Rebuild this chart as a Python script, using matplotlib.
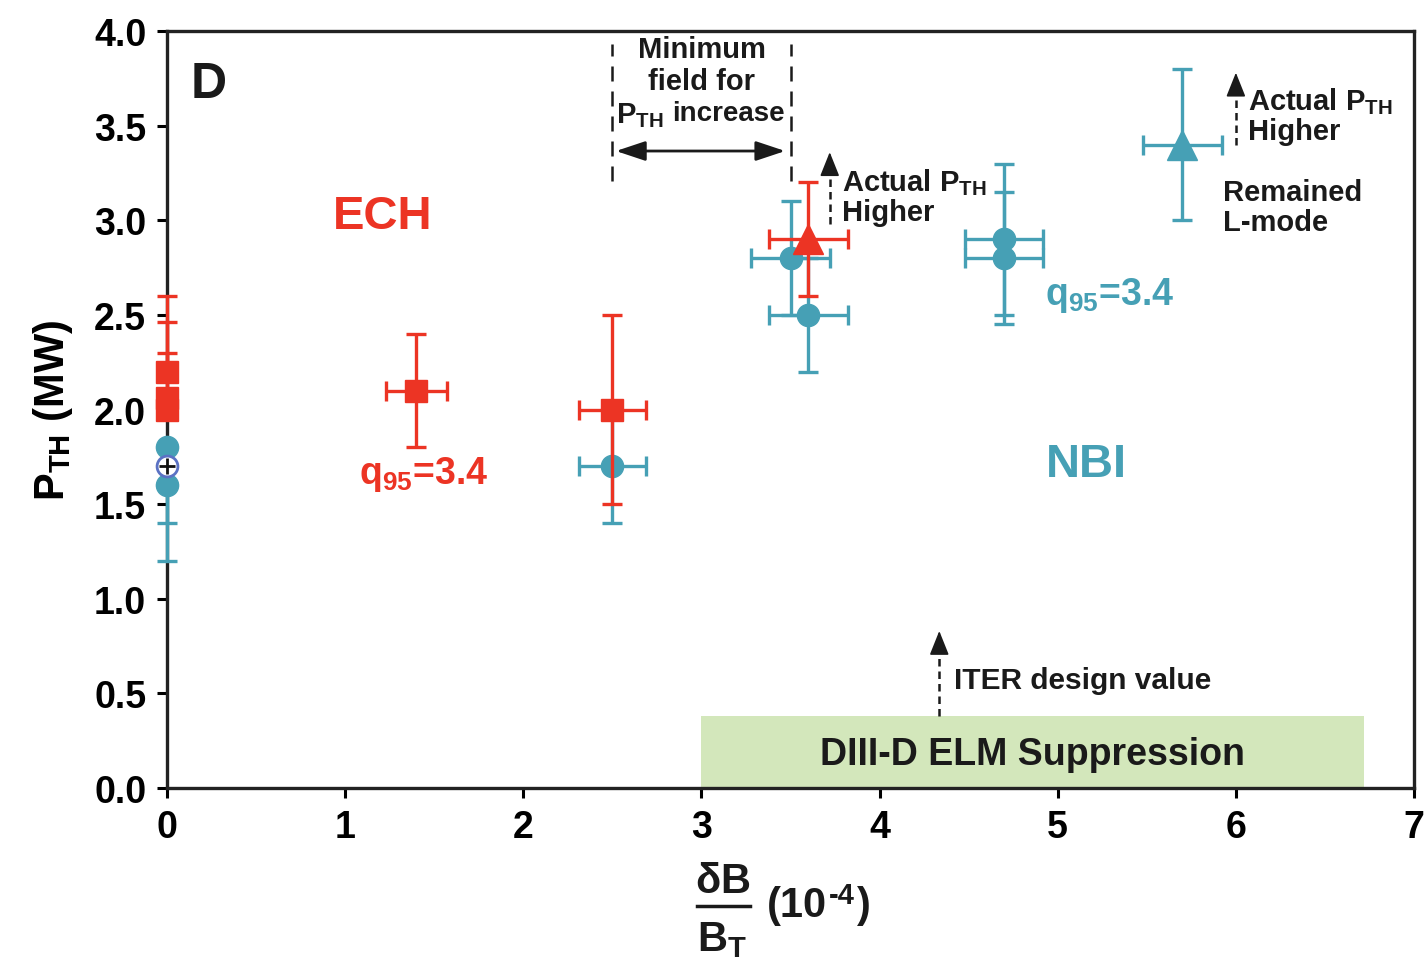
import matplotlib
matplotlib.use("Agg")
import matplotlib.pyplot as plt
from matplotlib import font_manager
from matplotlib.patches import Rectangle

# ---------------------------------------------------------------
# fonts: a condensed bold sans if one is around
# ---------------------------------------------------------------
names = {f.name for f in font_manager.fontManager.ttflist}
FAM = ["Liberation Sans Narrow", "DejaVu Sans"] if "Liberation Sans Narrow" in names else ["Liberation Sans", "DejaVu Sans"]
plt.rcParams["font.family"] = FAM
plt.rcParams["font.weight"] = "bold"
plt.rcParams["axes.labelweight"] = "bold"
plt.rcParams["mathtext.fontset"] = "custom"
plt.rcParams["mathtext.rm"] = FAM[0] + ":bold"
plt.rcParams["mathtext.it"] = FAM[0] + ":bold"
plt.rcParams["mathtext.bf"] = FAM[0] + ":bold"

RED = "#ec3424"
CYAN = "#46a0b5"
OPEN_EDGE = "#5b72c4"
BAND = "#d3e7bb"
INK = "#1a1a1a"

# ---------------------------------------------------------------
# data: threshold power vs normalised perturbation field
# ---------------------------------------------------------------
ech_x = [0.0, 0.0, 0.0, 1.4, 2.5]
ech_y = [2.2, 2.06, 2.0, 2.1, 2.0]
ech_xerr = [0.0, 0.0, 0.0, 0.17, 0.19]
ech_yerr_lo = [0.0, 0.0, 0.0, 0.3, 0.5]
ech_yerr_hi = [0.1, 0.4, 0.6, 0.3, 0.5]

ech_tri_x, ech_tri_y = [3.6], [2.9]
ech_tri_xerr = [0.22]
ech_tri_yerr_lo, ech_tri_yerr_hi = [0.3], [0.3]

nbi_x = [0.0, 0.0, 2.5, 3.5, 3.6, 4.7, 4.7]
nbi_y = [1.8, 1.6, 1.7, 2.8, 2.5, 2.9, 2.8]
nbi_xerr = [0.0, 0.0, 0.19, 0.22, 0.22, 0.22, 0.22]
nbi_yerr_lo = [0.4, 0.4, 0.3, 0.3, 0.3, 0.4, 0.35]
nbi_yerr_hi = [0.0, 0.0, 0.3, 0.3, 0.3, 0.4, 0.35]

nbi_tri_x, nbi_tri_y = [5.7], [3.4]
nbi_tri_xerr = [0.22]
nbi_tri_yerr_lo, nbi_tri_yerr_hi = [0.4], [0.4]

open_x, open_y = [0.0], [1.7]

elm_band = (3.0, 6.72, 0.38)   # x start, x end, height
iter_x = 4.335

x_ticks = [0, 1, 2, 3, 4, 5, 6, 7]
y_ticks = [0.0, 0.5, 1.0, 1.5, 2.0, 2.5, 3.0, 3.5, 4.0]


def draw_points(ax, xs, ys, xerrs, lo, hi, color, marker, ms, z):
    for x, y, xe, el, eh in zip(xs, ys, xerrs, lo, hi):
        ax.errorbar(x, y, yerr=[[el], [eh]], xerr=(xe if xe > 0 else None),
                    fmt=marker, ms=ms, color=color, mfc=color, mec=color,
                    ecolor=color, elinewidth=2.4, capsize=7.5, capthick=2.4,
                    zorder=z, clip_on=False)


def up_arrow(ax, x, y0, y1):
    # dashed shaft, solid head
    ax.plot([x, x], [y0, y1 - 0.06], ls=(0, (3, 2)), lw=1.8, color=INK, zorder=3)
    ax.annotate("", xy=(x, y1), xytext=(x, y1 - 0.07),
                arrowprops=dict(arrowstyle="-|>,head_length=0.75,head_width=0.3",
                                mutation_scale=20, lw=1.2, color=INK,
                                shrinkA=0, shrinkB=0))


fig = plt.figure(figsize=(14.24, 9.62), dpi=100)
ax = fig.add_axes([0.1173, 0.1798, 0.8757, 0.7869])

ax.set_xlim(0, 7)
ax.set_ylim(0, 4)
ax.set_xticks(x_ticks)
ax.set_yticks(y_ticks)
ax.set_xticklabels([str(t) for t in x_ticks])
ax.set_yticklabels([f"{t:.1f}" for t in y_ticks])
ax.tick_params(labelsize=27, width=2.2, length=7, direction="out", pad=8)
for lab in ax.get_xticklabels() + ax.get_yticklabels():
    lab.set_fontweight("bold")
for sp in ax.spines.values():
    sp.set_linewidth(2.4)
    sp.set_color("#222222")

# ELM suppression band
ax.add_patch(Rectangle((elm_band[0], 0), elm_band[1] - elm_band[0], elm_band[2],
                       facecolor=BAND, edgecolor="none", zorder=1))
ax.text((elm_band[0] + elm_band[1]) / 2, elm_band[2] / 2 - 0.01, "DIII-D ELM Suppression",
        ha="center", va="center", fontsize=27, color=INK, zorder=2)

# ITER design value arrow
up_arrow(ax, iter_x, elm_band[2], 0.83)
ax.text(iter_x + 0.08, 0.57, "ITER design value", fontsize=21.5, va="center", ha="left",
        color=INK)

# minimum field bracket
for xb in (2.5, 3.5):
    ax.plot([xb, xb], [3.21, 3.93], ls=(0, (6, 4)), lw=1.8, color=INK, zorder=2)
ax.annotate("", xy=(2.52, 3.366), xytext=(3.47, 3.366),
            arrowprops=dict(arrowstyle="<|-|>,head_length=0.9,head_width=0.3",
                            mutation_scale=20, lw=2, color=INK, shrinkA=0, shrinkB=0))
ax.text(3.0, 3.905, "Minimum", ha="center", va="center", fontsize=21, color=INK)
ax.text(3.0, 3.735, "field for", ha="center", va="center", fontsize=21, color=INK)
ax.text(2.52, 3.56, r"P$_{\mathregular{TH}}$", ha="left", va="center", fontsize=21, color=INK)
ax.text(3.47, 3.565, "increase", ha="right", va="center", fontsize=20, color=INK)

# "Actual P_TH higher" arrows
up_arrow(ax, 3.72, 2.98, 3.36)
ax.text(3.79, 3.13, "Actual P$_{\\mathregular{TH}}$\nHigher", ha="left", va="center",
        fontsize=21, linespacing=1.05, color=INK)
up_arrow(ax, 6.0, 3.40, 3.78)
ax.text(6.07, 3.555, "Actual P$_{\\mathregular{TH}}$\nHigher", ha="left", va="center",
        fontsize=21, linespacing=1.05, color=INK)
ax.text(5.93, 3.07, "Remained\nL-mode", ha="left", va="center",
        fontsize=21, linespacing=1.05, color=INK)

# labels for heating schemes
ax.text(0.13, 3.72, "D", fontsize=36, ha="left", va="center", color=INK)
ax.text(1.21, 3.02, "ECH", fontsize=34, color=RED, ha="center", va="center")
ax.text(5.16, 1.71, "NBI", fontsize=34, color=CYAN, ha="center", va="center")
ax.text(1.08, 1.66, r"q$_{\mathregular{95}}$=3.4", fontsize=27, color=RED, ha="left", va="center")
ax.text(4.93, 2.61, r"q$_{\mathregular{95}}$=3.4", fontsize=27, color=CYAN, ha="left", va="center")

# data points
draw_points(ax, nbi_x, nbi_y, nbi_xerr, nbi_yerr_lo, nbi_yerr_hi, CYAN, "o", 16, 4)
draw_points(ax, ech_x, ech_y, ech_xerr, ech_yerr_lo, ech_yerr_hi, RED, "s", 16, 5)
draw_points(ax, ech_tri_x, ech_tri_y, ech_tri_xerr, ech_tri_yerr_lo, ech_tri_yerr_hi,
            RED, "^", 21, 6)
draw_points(ax, nbi_tri_x, nbi_tri_y, nbi_tri_xerr, nbi_tri_yerr_lo, nbi_tri_yerr_hi,
            CYAN, "^", 21, 6)
ax.plot(open_x, open_y, "o", ms=15, mfc="white", mec=OPEN_EDGE, mew=2, zorder=7, clip_on=False)
ax.plot(open_x, open_y, "+", ms=11, mec="#111111", mew=2, zorder=8, clip_on=False)

# axis titles
ax.set_ylabel(r"P$_{\mathregular{TH}}$ (MW)", fontsize=30, fontweight="bold", labelpad=14)
fig.text(723 / 1424, 1 - 882 / 962, r"$\delta$B", fontsize=30, ha="center", va="center",
         color=INK)
fig.add_artist(plt.Line2D([697 / 1424, 750 / 1424], [1 - 907 / 962, 1 - 907 / 962],
                          lw=2.5, color=INK))
fig.text(722 / 1424, 1 - 940 / 962, r"B$_{\mathregular{T}}$", fontsize=30, ha="center",
         va="center", color=INK)
fig.text(767 / 1424, 1 - 906 / 962, "(10", fontsize=30, ha="left", va="center", color=INK)
fig.text(829 / 1424, 1 - 896 / 962, "-4", fontsize=21, ha="left", va="center", color=INK)
fig.text(857 / 1424, 1 - 906 / 962, ")", fontsize=30, ha="left", va="center", color=INK)

fig.savefig("out.png", dpi=100)
